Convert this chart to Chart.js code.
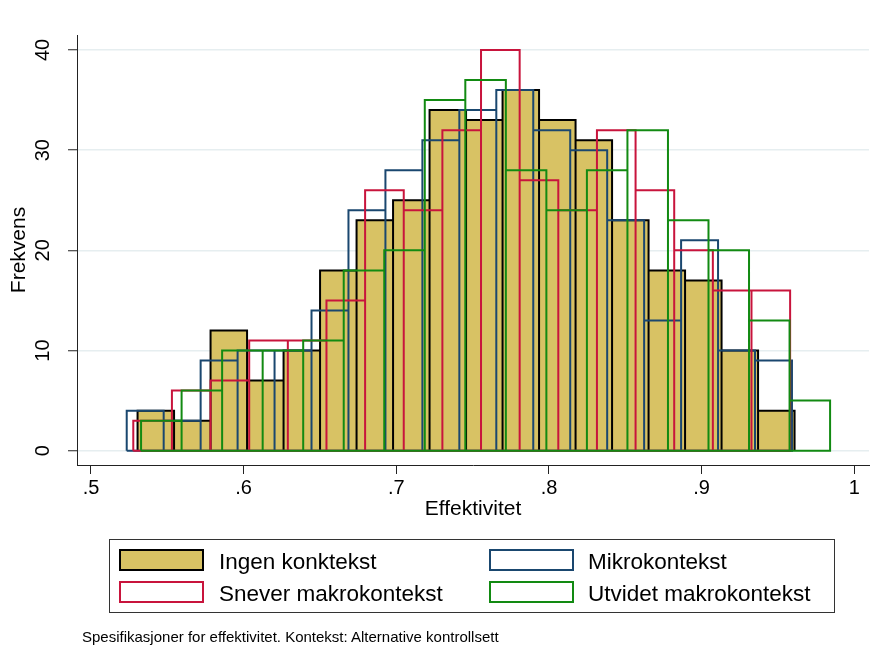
<!DOCTYPE html>
<html>
<head>
<meta charset="utf-8">
<script src="https://cdn.jsdelivr.net/npm/chart.js@4.4.1/dist/chart.umd.min.js"></script>
<style>
  html, body { margin: 0; padding: 0; background: #fff; }
  #wrap { position: relative; width: 879px; height: 646px; font-family: 'Liberation Sans', Arial, sans-serif; color: #000; }
  #legend { position: absolute; left: 109px; top: 539px; width: 726px; height: 74px; border: 1px solid #333; box-sizing: border-box; }
  .sw { position: absolute; width: 85px; height: 22px; box-sizing: border-box; border: 2px solid; background: #fff; }
  .lbl { position: absolute; font-size: 22.5px; line-height: 22.5px; white-space: nowrap; }
  #note { position: absolute; left: 82px; top: 629px; font-size: 15px; line-height: 15px; white-space: nowrap; }
</style>
</head>
<body>
<div id="wrap">
  <canvas id="chart" width="879" height="646"></canvas>
  <div id="legend">
    <div class="sw" style="left:9px; top:9px; background:#d8c264; border-color:#000;"></div>
    <div class="lbl" style="left:109px; top:11px;">Ingen konktekst</div>
    <div class="sw" style="left:379px; top:9px; border-color:#1a476f;"></div>
    <div class="lbl" style="left:478px; top:11px;">Mikrokontekst</div>
    <div class="sw" style="left:9px; top:41px; border-color:#c8143c;"></div>
    <div class="lbl" style="left:109px; top:43px;">Snever makrokontekst</div>
    <div class="sw" style="left:379px; top:41px; border-color:#128a12;"></div>
    <div class="lbl" style="left:478px; top:43px;">Utvidet makrokontekst</div>
  </div>
  <div id="note">Spesifikasjoner for effektivitet. Kontekst: Alternative kontrollsett</div>
</div>
<script>
// --- DATA (histogram bins: start, width, counts) ---
const ingenStart = 0.5305, ingenWidth = 0.02391;
const ingenCounts = [4, 3, 12, 7, 10, 18, 23, 25, 34, 33, 36, 33, 31, 23, 18, 17, 10, 4];

const mikroStart = 0.5234, mikroWidth = 0.02421;
const mikroCounts = [4, 3, 9, 10, 10, 14, 24, 28, 31, 34, 36, 32, 30, 23, 13, 21, 10, 9];

const sneverStart = 0.5277, sneverWidth = 0.02531;
const sneverCounts = [3, 6, 7, 11, 11, 15, 26, 24, 32, 40, 27, 24, 32, 26, 20, 16, 16];

const utvidetStart = 0.5328, utvidetWidth = 0.02655;
const utvidetCounts = [3, 6, 10, 10, 11, 18, 20, 35, 37, 28, 24, 28, 32, 23, 20, 13, 5];

const xTicks = [0.5, 0.6, 0.7, 0.8, 0.9, 1.0];
const xTickLabels = ['.5', '.6', '.7', '.8', '.9', '1'];
const yTicks = [0, 10, 20, 30, 40];

// trace every bar as a rectangle so inner edges are drawn like Stata does
function barOutline(start, width, counts, close) {
  const pts = [];
  counts.forEach((c, i) => {
    const x0 = start + i * width;
    const x1 = x0 + width;
    pts.push({ x: x0, y: 0 }, { x: x0, y: c }, { x: x1, y: c }, { x: x1, y: 0 });
  });
  if (close) pts.push({ x: start, y: 0 });
  return pts;
}

const lineStyle = {
  showLine: true,
  pointRadius: 0,
  borderWidth: 2,
  tension: 0,
  borderJoinStyle: 'miter',
  borderCapStyle: 'butt',
  fill: false
};

Chart.defaults.font.family = "'Liberation Sans', Arial, sans-serif";
Chart.defaults.color = '#000';

new Chart(document.getElementById('chart'), {
  type: 'scatter',
  data: {
    datasets: [
      { ...lineStyle, label: 'Ingen konktekst', data: barOutline(ingenStart, ingenWidth, ingenCounts, false),
        borderColor: '#000', backgroundColor: '#d8c264', fill: 'origin', order: 4 },
      { ...lineStyle, label: 'Mikrokontekst', data: barOutline(mikroStart, mikroWidth, mikroCounts, true),
        borderColor: '#1a476f', order: 3 },
      { ...lineStyle, label: 'Snever makrokontekst', data: barOutline(sneverStart, sneverWidth, sneverCounts, true),
        borderColor: '#c8143c', order: 2 },
      { ...lineStyle, label: 'Utvidet makrokontekst', data: barOutline(utvidetStart, utvidetWidth, utvidetCounts, true),
        borderColor: '#128a12', order: 1 }
    ]
  },
  options: {
    responsive: false,
    animation: false,
    events: [],
    layout: { padding: { top: 35, right: 10, bottom: 124, left: 0 } },
    plugins: {
      legend: { display: false },
      tooltip: { enabled: false }
    },
    scales: {
      x: {
        type: 'linear',
        min: 0.49083,
        max: 1.00964,
        afterBuildTicks: (s) => { s.ticks = xTicks.map(v => ({ value: v })); },
        afterFit: (s) => { s.height = 57; },
        ticks: {
          font: { size: 20 },
          padding: 2,
          maxRotation: 0,
          callback: (v, i) => xTickLabels[i]
        },
        grid: { drawOnChartArea: false, tickLength: 9, tickColor: '#222', tickWidth: 1 },
        border: { display: true, color: '#222', width: 1 },
        title: { display: true, text: 'Effektivitet', font: { size: 21 }, padding: { top: 0, bottom: 0 } }
      },
      y: {
        type: 'linear',
        min: -1.4275,
        max: 41.497,
        afterBuildTicks: (s) => { s.ticks = yTicks.map(v => ({ value: v })); },
        afterFit: (s) => { s.width = 77; },
        ticks: {
          font: { size: 20 },
          padding: 13,
          minRotation: 90,
          maxRotation: 90,
          crossAlign: 'center'
        },
        grid: { color: '#e6eef0', lineWidth: 1.5, tickLength: 9, tickColor: '#222', tickWidth: 1 },
        border: { display: true, color: '#222', width: 1 },
        title: { display: true, text: 'Frekvens', font: { size: 21 }, padding: { top: 7, bottom: 0 } }
      }
    }
  }
});
</script>
</body>
</html>
